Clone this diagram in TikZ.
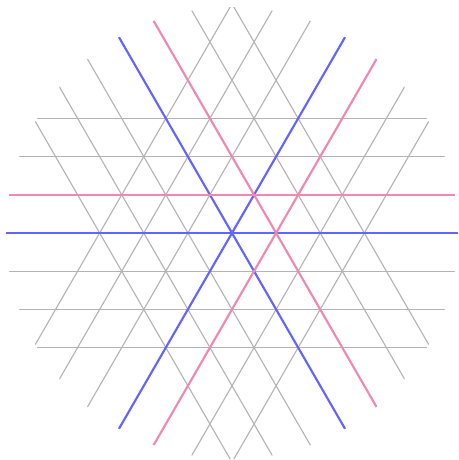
\documentclass[tikz,border=0pt]{standalone}
\usepackage{tikz}
\definecolor{gridGray}{HTML}{B4B4B4}
\definecolor{axisBlue}{HTML}{6464FF}
\definecolor{axisPink}{HTML}{F088B4}

\begin{document}
\begin{tikzpicture}[
  x=0.75pt,y=0.75pt,
  gridline/.style={draw=gridGray,line width=0.85pt},
  blueline/.style={draw=axisBlue,line width=1.6pt},
  pinkline/.style={draw=axisPink,line width=1.6pt}
]
\def\rowh{38.2}
\def\rad{226}
\useasboundingbox (-232,-227) rectangle (227,233);
\begin{scope}
\clip (0,0) circle (\rad);
\foreach \ang in {0,60,120}{
  \foreach \k in {-3,...,3}{
    \draw[gridline,rotate=\ang] (-300,\k*\rowh) -- (300,\k*\rowh);
  }
}
\foreach \ang in {0,60,120}{
  \draw[blueline,rotate=\ang] (-300,0) -- (300,0);
}
\draw[pinkline] (-300,\rowh) -- (300,\rowh);
\draw[pinkline,rotate=60] (-300,-\rowh) -- (300,-\rowh);
\draw[pinkline,rotate=120] (-300,-\rowh) -- (300,-\rowh);
\end{scope}
\end{tikzpicture}
\end{document}
